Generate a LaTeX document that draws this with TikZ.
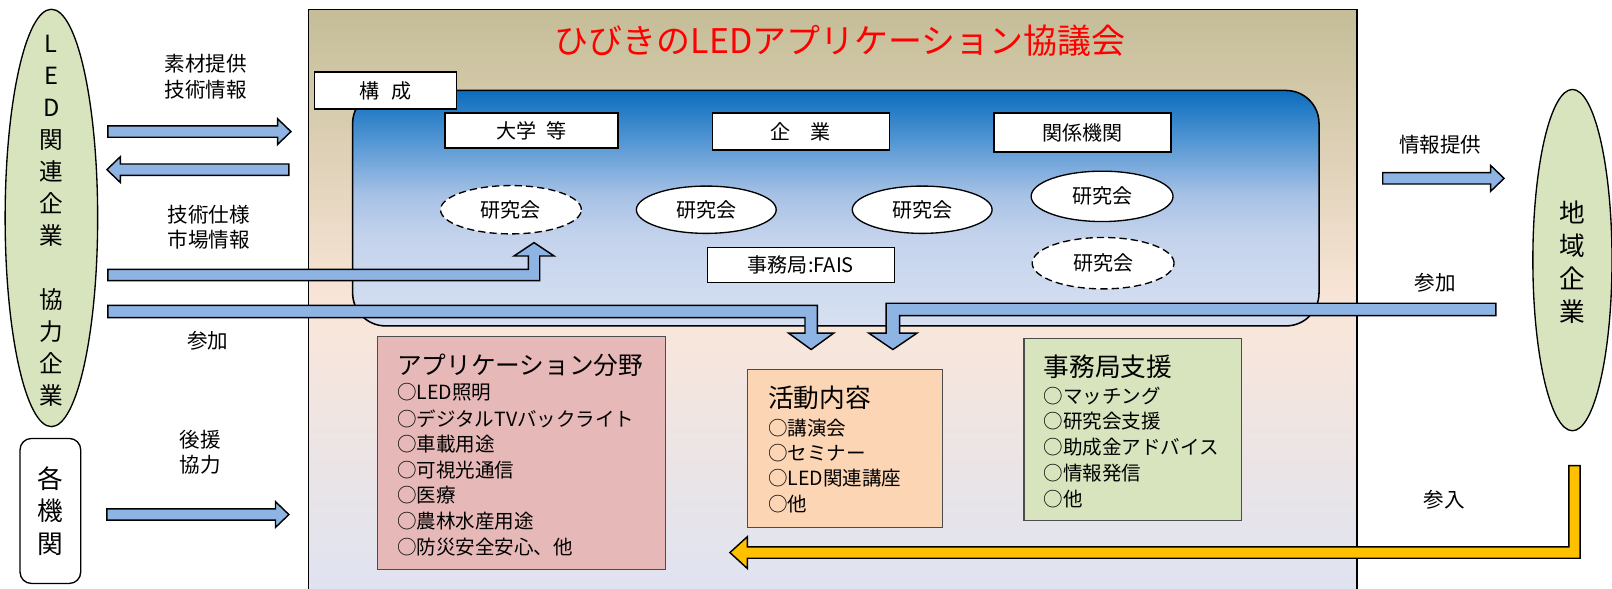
\documentclass[tikz,border=0pt]{standalone}
\usepackage{fontspec}
\setmainfont{Noto Sans CJK JP}
\usetikzlibrary{shapes.geometric}
\definecolor{arrowblue}{HTML}{8EB4E3}
\definecolor{ledgreen}{HTML}{D7E4BD}
\definecolor{apppink}{HTML}{E6B9B8}
\definecolor{actorange}{HTML}{FCD5B5}
\definecolor{supgreen}{HTML}{D7E4BD}
\definecolor{yelarrow}{HTML}{FFC000}
\definecolor{outT}{HTML}{C4BD97}
\definecolor{outM}{HTML}{FAE6D9}
\definecolor{outB}{HTML}{DEE3F1}
\definecolor{inT}{HTML}{0B6DBE}
\definecolor{inMa}{HTML}{5597D4}
\definecolor{inMb}{HTML}{A6C1E5}
\definecolor{inMc}{HTML}{C4D3EC}
\definecolor{inB}{HTML}{D6E0F1}
\pgfdeclareverticalshading{outersh}{100bp}{color(0bp)=(outB); color(25bp)=(outB); color(50bp)=(outM); color(75bp)=(outT); color(100bp)=(outT)}
\pgfdeclareverticalshading{innersh}{100bp}{color(0bp)=(inB); color(25bp)=(inB); color(44bp)=(inMc); color(53bp)=(inMb); color(64bp)=(inMa); color(75bp)=(inT); color(100bp)=(inT)}
\newcommand{\blkRight}[3]{\path[blockarrow] ({#1},{#3-5.5}) -- ({#2-13},{#3-5.5}) -- ({#2-13},{#3-12.5}) -- ({#2},{#3}) -- ({#2-13},{#3+12.5}) -- ({#2-13},{#3+5.5}) -- ({#1},{#3+5.5}) -- cycle;}
\newcommand{\blkLeft}[3]{\path[blockarrow] ({#1},{#3-5.5}) -- ({#2+13},{#3-5.5}) -- ({#2+13},{#3-12.5}) -- ({#2},{#3}) -- ({#2+13},{#3+12.5}) -- ({#2+13},{#3+5.5}) -- ({#1},{#3+5.5}) -- cycle;}
\tikzset{
  blockarrow/.style={draw=black, line width=1.4, fill=arrowblue, line join=miter},
  lbl/.style={font=\fontsize{20}{25}\selectfont, align=center, inner sep=0},
  wbox/.style={draw=black, line width=1.3, fill=white, inner sep=0, font=\fontsize{19.5}{23}\selectfont},
  ken/.style={ellipse, draw=black, line width=1.3, fill=white, inner sep=0, minimum width=137, minimum height=47, font=\fontsize{19.5}{23}\selectfont},
  kendash/.style={ken, dash pattern=on 7pt off 4pt},
  catbox/.style={draw=black!70, line width=1.1, inner sep=0},
  cattitle/.style={anchor=west, inner sep=0, font=\fontsize{24}{28}\selectfont},
  catitem/.style={anchor=west, inner sep=0, font=\fontsize{19}{23}\selectfont},
  bigtext/.style={align=center, inner sep=0}
}
\begin{document}
\begin{tikzpicture}[x=1pt,y=-1pt]
\useasboundingbox (0,0) rectangle (1568,572);
\clip (0,0) rectangle (1568,572);
\fill[white] (0,0) rectangle (1568,572);

% big council rectangle
\path[shading=outersh, draw=black, line width=1.3] (300,9) rectangle (1320,585);
\node[text=red, inner sep=0, font=\fontsize{33}{37}\selectfont] (title) at (817,40) {ひびきのLEDアプリケーション協議会};

% inner composition rectangle
\path[shading=innersh, draw=black, line width=1.5, rounded corners=32] (343,88) rectangle (1283,317);
\node[wbox, minimum width=138, minimum height=36] (kosei) at (375,88) {構\hspace{0.6em}成};

\node[wbox, minimum width=168, minimum height=34] (daigaku) at (517,127) {大学\hspace{0.45em}等};
\node[wbox, minimum width=172, minimum height=36] (kigyo) at (779,128) {企\hspace{1em}業};
\node[wbox, minimum width=172, minimum height=38] (kankei) at (1053,129) {関係機関};
\node[wbox, minimum width=182, minimum height=34] (jimu) at (779,258) {事務局:FAIS};

\node[kendash] (ken1) at (497,204) {研究会};
\node[ken, minimum width=136, minimum height=46] (ken2) at (687,204) {研究会};
\node[ken, minimum width=136, minimum height=46] (ken3) at (897,204) {研究会};
\node[ken, minimum width=138, minimum height=49] (ken4) at (1072,191) {研究会};
\node[kendash, minimum width=138, minimum height=50] (ken5) at (1073,256) {研究会};

% category boxes
\node[catbox, fill=apppink, minimum width=280, minimum height=227] (appbox) at (507,440.5) {};
\node[cattitle] (apptitle) at (386,355) {アプリケーション分野};
\foreach \t [count=\i] in {○LED照明, ○デジタルTVバックライト, ○車載用途, ○可視光通信, ○医療, ○農林水産用途, ○防災安全安心、他}
  \node[catitem] (app\i) at (386,{382+25*(\i-1)}) {\t};

\node[catbox, fill=actorange, minimum width=190, minimum height=154] (actbox) at (822,436) {};
\node[cattitle, font=\fontsize{25}{28}\selectfont] (acttitle) at (747,387) {活動内容};
\foreach \t [count=\i] in {○講演会, ○セミナー, ○LED関連講座, ○他}
  \node[catitem] (act\i) at (747,{416+24.7*(\i-1)}) {\t};

\node[catbox, fill=supgreen, minimum width=212, minimum height=177] (supbox) at (1102,417.5) {};
\node[cattitle, font=\fontsize{25}{28}\selectfont] (suptitle) at (1015,357) {事務局支援};
\foreach \t [count=\i] in {○マッチング, ○研究会支援, ○助成金アドバイス, ○情報発信, ○他}
  \node[catitem] (sup\i) at (1015,{385+25*(\i-1)}) {\t};

% outside parties
\node[ellipse, draw=black, line width=1.3, fill=ledgreen, minimum width=90, minimum height=406, inner sep=0] (led) at (50,212) {};
\node[bigtext, font=\fontsize{23}{31.1}\selectfont] (ledtext) at (50,215) {L\\E\\D\\関\\連\\企\\業\\[31.1pt]協\\力\\企\\業};

\node[ellipse, draw=black, line width=1.3, fill=ledgreen, minimum width=77, minimum height=332, inner sep=0] (chiiki) at (1529.5,253) {};
\node[bigtext, font=\fontsize{25}{32}\selectfont] (chiikitext) at (1529.5,255) {地\\域\\企\\業};

\node[draw=black, line width=1.3, fill=white, rounded corners=11, minimum width=59, minimum height=141, inner sep=0, bigtext, font=\fontsize{25}{31.5}\selectfont] (kaku) at (49,497) {各\\機\\関};

% labels
\node[lbl] (l1) at (200,74.5) {素材提供\\技術情報};
\node[lbl] (l2) at (203,221) {技術仕様\\市場情報};
\node[lbl] (l3) at (202,331) {参加};
\node[lbl, font=\fontsize{20}{24}\selectfont] (l4) at (195,440) {後援\\協力};
\node[lbl] (l5) at (1401,141) {情報提供};
\node[lbl] (l6) at (1396,275) {参加};
\node[lbl] (l7) at (1405,486) {参入};

% straight block arrows
\blkRight{105}{283}{128}
\blkLeft{281}{104}{165}
\blkRight{104}{281}{500.5}
\blkRight{1345}{1463}{173.5}

% bent block arrows
\path[blockarrow] (105,262) -- (514,262) -- (514,249) -- (500,249) -- (519.5,236) -- (539,249) -- (525,249) -- (525,273) -- (105,273) -- cycle;
\path[blockarrow] (105,297) -- (795,297) -- (795,324) -- (811,324) -- (789,340) -- (767,324) -- (783,324) -- (783,309) -- (105,309) -- cycle;
\path[blockarrow] (1455,295) -- (862,295) -- (862,324) -- (845,324) -- (868.5,340) -- (892,324) -- (875,324) -- (875,307) -- (1455,307) -- cycle;
\path[draw=black, line width=1.4, fill=yelarrow] (1526,453) -- (1537,453) -- (1537,543) -- (727,543) -- (727,553) -- (710,537.5) -- (727,522) -- (727,532) -- (1526,532) -- cycle;
\end{tikzpicture}
\end{document}
